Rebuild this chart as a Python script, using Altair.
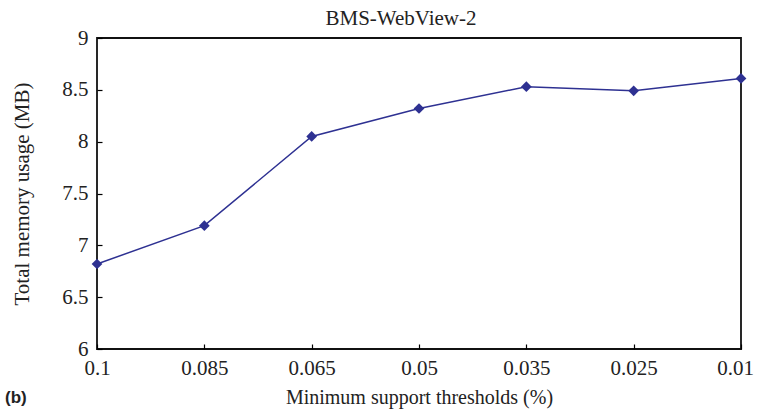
import altair as alt
import pandas as pd

# Memory usage of the miner on BMS-WebView-2 for each support threshold
thresholds = ["0.1", "0.085", "0.065", "0.05", "0.035", "0.025", "0.01"]
memory_mb = [6.82, 7.19, 8.05, 8.32, 8.53, 8.49, 8.61]
y_ticks = [6, 6.5, 7, 7.5, 8, 8.5, 9]
chart_title = "BMS-WebView-2"
panel_label = "(b)"

df = pd.DataFrame({"threshold": thresholds, "memory": memory_mb})

SERIF = "Liberation Serif"
LINE_COLOR = "#2e3192"

x_enc = alt.X(
    "threshold:N",
    sort=thresholds,
    scale=alt.Scale(type="point", padding=0),
    axis=alt.Axis(
        title="Minimum support thresholds (%)",
        labelAngle=0,
        labelPadding=8,
        titlePadding=9,
        titleFontSize=20,
        # keep the last label inside the canvas
        labelOffset={"condition": {"test": "datum.label == '0.01'", "value": -6}, "value": 0},
    ),
)
y_enc = alt.Y(
    "memory:Q",
    scale=alt.Scale(domain=[6, 9], nice=False, zero=False),
    axis=alt.Axis(
        title="Total memory usage (MB)",
        values=y_ticks,
        format="~g",
        labelPadding=9,
        titlePadding=29,
        titleFontSize=21,
    ),
)

line = alt.Chart(df).mark_line(
    color=LINE_COLOR,
    strokeWidth=1.5,
    clip=False,
    point=alt.OverlayMarkDef(shape="diamond", size=115, color=LINE_COLOR, filled=True, opacity=1),
).encode(x=x_enc, y=y_enc)

title_text = alt.Chart(pd.DataFrame({"t": [chart_title]})).mark_text(
    font=SERIF, fontSize=21, align="center", baseline="alphabetic", color="#222"
).encode(text="t:N", x=alt.value(304), y=alt.value(-13))

panel_tag = alt.Chart(pd.DataFrame({"tag": [panel_label]})).mark_text(
    font="Liberation Sans", fontSize=17, fontWeight="bold", align="left", baseline="middle", color="#222"
).encode(text="tag:N", x=alt.value(-92), y=alt.value(360))

chart = (
    alt.layer(line, title_text, panel_tag)
    .properties(
        width=644,
        height=311,
        autosize=alt.AutoSizeParams(type="none"),
        padding={"left": 97, "top": 38, "right": 17, "bottom": 64},
        background="white",
    )
    .configure_view(stroke="#111", strokeWidth=1.8)
    .configure_axis(
        grid=False,
        domain=False,
        offset=-5,
        tickSize=5,
        tickColor="black",
        tickWidth=1.2,
        labelFont=SERIF,
        labelFontSize=21,
        labelColor="#222",
        titleFont=SERIF,
        titleFontWeight="normal",
        titleColor="#222",
    )
)

chart.save("out.html", embed_options={"renderer": "svg", "actions": False})
